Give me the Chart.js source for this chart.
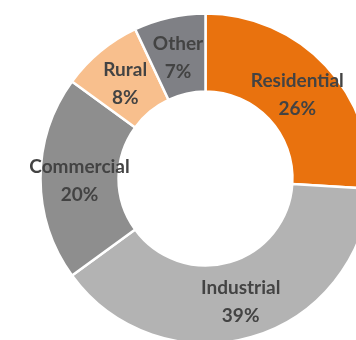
<!DOCTYPE html>
<html>
<head>
<meta charset="utf-8">
<script src="https://cdn.jsdelivr.net/npm/chart.js@4"></script>
<style>
  html, body { margin: 0; padding: 0; background: #fff; overflow: hidden; width: 356px; height: 340px; }
  #wrap { position: absolute; left: 0; top: 0; }
</style>
</head>
<body>
<div id="wrap"><canvas id="c" width="411" height="357"></canvas></div>
<script>
// Electricity consumption share by sector
const categories = ['Residential', 'Industrial', 'Commercial', 'Rural', 'Other'];
const shares = [26, 39, 20, 8, 7];
const sliceColors = ['#E9720E', '#B3B3B3', '#8E8E8E', '#F8BF8D', '#7F8085'];

// Writes "name / value%" in the middle of each ring segment
const sliceLabels = {
  id: 'sliceLabels',
  afterDatasetsDraw(chart) {
    const ctx = chart.ctx;
    const meta = chart.getDatasetMeta(0);
    ctx.save();
    ctx.font = 'bold 19px Lato, "Noto Sans", sans-serif';
    ctx.fillStyle = '#434343';
    ctx.textAlign = 'center';
    ctx.textBaseline = 'middle';
    meta.data.forEach((arc, i) => {
      const p = arc.tooltipPosition();
      const y = p.y + 2.5;
      ctx.fillText(categories[i], p.x, y - 14);
      ctx.fillText(shares[i] + '%', p.x, y + 14);
    });
    ctx.restore();
  }
};

new Chart(document.getElementById('c'), {
  type: 'doughnut',
  data: {
    labels: categories,
    datasets: [{
      data: shares,
      backgroundColor: sliceColors,
      borderColor: '#ffffff',
      borderWidth: 2.5,
      hoverOffset: 0
    }]
  },
  options: {
    responsive: false,
    devicePixelRatio: 1,
    animation: false,
    radius: 165,
    cutout: '52.7%',
    layout: { padding: 0 },
    plugins: {
      legend: { display: false },
      tooltip: { enabled: false }
    }
  },
  plugins: [sliceLabels]
});
</script>
</body>
</html>
